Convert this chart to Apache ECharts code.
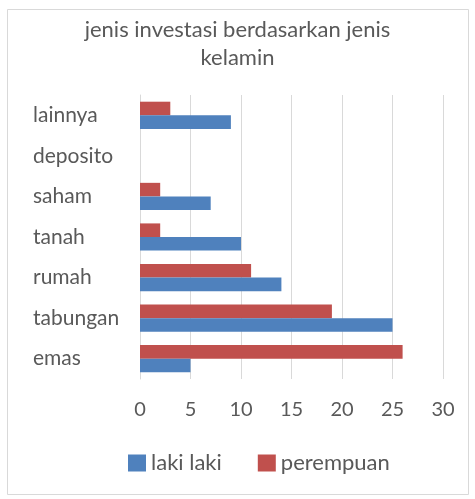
<!DOCTYPE html>
<html>
<head>
<meta charset="utf-8">
<script src="https://cdn.jsdelivr.net/npm/echarts@6/dist/echarts.min.js"></script>
<style>
  html, body { margin: 0; padding: 0; background: #fff; }
  #chart { width: 475px; height: 499px; }
</style>
</head>
<body>
<div id="chart"></div>
<script>
// data
var categories = ['emas', 'tabungan', 'rumah', 'tanah', 'saham', 'deposito', 'lainnya'];
var lakiLaki = [5, 25, 14, 10, 7, 0, 9];
var perempuan = [26, 19, 11, 2, 2, 0, 3];
var xTicks = [0, 30, 5];

var myChart = echarts.init(document.getElementById('chart'));
var font = 'Lato, "Open Sans", sans-serif';

var option = {
  backgroundColor: '#fff',
  textStyle: { fontFamily: font },
  title: {
    text: 'jenis investasi berdasarkan jenis\nkelamin',
    left: 'center',
    top: 11,
    textStyle: { fontFamily: font, fontSize: 22, fontWeight: 'normal', color: '#595959', lineHeight: 28 }
  },
  graphic: [{
    type: 'rect',
    shape: { x: 7.5, y: 9.5, width: 461, height: 485 },
    style: { fill: 'none', stroke: '#d9d9d9', lineWidth: 1 },
    silent: true
  }],
  legend: {
    bottom: 20,
    left: 123,
    icon: 'rect',
    itemWidth: 18,
    itemHeight: 17,
    itemGap: 36,
    textStyle: { fontFamily: font, fontSize: 22, color: '#595959' },
    data: ['laki laki', 'perempuan']
  },
  grid: { left: 140, right: 32, top: 95, bottom: 120 },
  xAxis: {
    type: 'value',
    min: xTicks[0],
    max: xTicks[1],
    interval: xTicks[2],
    axisLine: { show: false },
    axisTick: { show: false },
    splitLine: { lineStyle: { color: '#d9d9d9', width: 1 } },
    axisLabel: { fontFamily: font, fontSize: 20, color: '#595959', margin: 21 }
  },
  yAxis: {
    type: 'category',
    data: categories,
    axisLine: { lineStyle: { color: '#d9d9d9' } },
    axisTick: { show: false },
    axisLabel: { fontFamily: font, fontSize: 21, color: '#595959', align: 'left', margin: 107 }
  },
  // first series is drawn on top in each group
  series: [
    {
      name: 'perempuan',
      type: 'bar',
      data: perempuan,
      barGap: '0%',
      barCategoryGap: '33%',
      itemStyle: { color: '#c0504d' }
    },
    {
      name: 'laki laki',
      type: 'bar',
      data: lakiLaki,
      barGap: '0%',
      barCategoryGap: '33%',
      itemStyle: { color: '#4f81bd' }
    }
  ]
};

myChart.setOption(option);
</script>
</body>
</html>
